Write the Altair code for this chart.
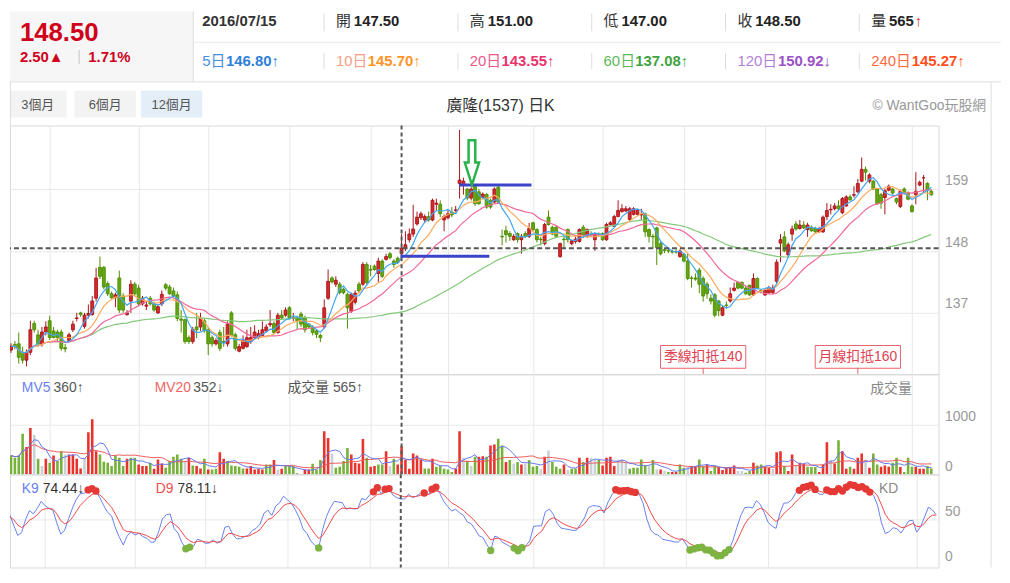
import altair as alt
import pandas as pd
import numpy as np

FONT = "Liberation Sans, Noto Sans CJK TC, sans-serif"

# ---------------- daily candles ----------------
opens = [
    130.4,131.4,131.5,130.0,128.6,130.0,135.1,133.1,131.5,133.6, 135.6,133.8,133.6,133.6,130.8,132.1,134.0,136.0,137.0,134.6,
    136.6,136.7,139.6,145.1,145.1,142.2,140.4,139.7,143.2,140.0, 136.7,139.1,142.1,141.4,138.6,138.2,139.6,138.6,137.0,138.6,
    142.0,141.6,140.9,140.2,135.9,135.8,132.6,131.9,134.5,134.5, 135.6,134.0,132.6,131.5,133.5,131.9,131.5,137.0,133.1,130.2,
    130.7,131.0,131.9,132.6,132.6,133.0,133.8,134.9,135.1,133.5, 136.6,136.6,137.9,136.0,136.1,136.8,136.1,135.0,134.5,133.8,
    133.0,134.5,139.6,143.2,142.1,142.1,141.2,140.3,137.3,138.9, 142.1,142.1,145.6,144.7,145.3,144.0,146.2,146.5,147.5,146.2,
    146.7,147.5,148.4,150.0,151.0,152.8,153.9,153.5,154.1,153.5, 156.3,156.3,153.5,153.9,154.9,155.2,160.0,159.8,159.0,157.4,
    159.5,158.5,157.5,158.0,157.0,156.7,159.3,150.6,151.6,151.1, 150.0,151.1,150.0,151.1,150.6,153.0,151.8,150.1,149.3,154.0,
    152.2,152.2,147.0,150.1,151.8,149.3,149.7,149.7,152.2,150.6, 151.0,150.0,151.0,151.1,150.0,152.7,152.4,154.1,155.0,155.1,
    153.6,154.5,154.5,154.4,154.6,151.8,150.6,152.1,149.3,148.2, 148.1,147.9,147.9,147.0,147.4,146.2,143.2,143.2,144.6,143.1,
    142.1,139.6,140.2,139.1,136.6,138.4,139.1,141.0,142.4,142.4, 141.4,141.9,140.2,143.1,141.0,140.2,140.6,140.6,142.6,149.4,
    150.5,147.3,151.0,152.8,152.0,152.6,151.8,152.2,152.0,151.4, 151.4,154.1,155.3,155.5,156.0,154.8,156.0,157.6,157.9,158.5,
    160.4,162.5,160.4,160.4,159.0,158.0,157.5,158.8,159.0,157.3, 155.9,159.0,158.3,156.0,158.0,159.7,161.0,160.0,158.6,
]
highs = [
    131.6,132.0,133.5,131.0,130.5,135.6,135.6,134.0,134.5,135.5, 136.5,134.5,134.0,134.0,131.5,133.5,135.6,137.0,137.2,137.0,
    138.5,140.0,145.0,147.0,145.3,142.6,140.8,140.6,144.5,140.5, 137.5,142.8,142.5,142.0,140.0,139.0,140.0,139.0,138.5,141.0,
    142.3,142.0,141.5,140.8,137.5,136.0,133.0,134.5,137.0,137.0, 136.0,134.5,133.0,132.5,134.0,134.5,135.5,137.3,133.5,131.5,
    133.0,134.0,134.5,134.8,134.0,135.5,135.0,137.5,135.5,137.0, 137.5,138.0,138.2,137.0,136.5,137.2,136.5,135.2,134.8,134.0,
    133.3,139.4,144.7,143.5,143.5,142.5,141.5,140.6,140.6,141.0, 142.5,146.0,146.0,145.5,145.6,146.8,146.5,147.5,147.8,146.5,
    147.0,151.0,151.5,152.0,156.2,155.0,155.0,154.5,155.0,157.3, 157.3,157.0,154.5,155.3,155.8,156.0,169.5,161.0,159.2,159.3,
    159.8,159.0,158.4,158.3,157.3,159.3,159.6,151.8,152.5,151.5, 151.0,151.3,151.0,151.5,153.0,153.2,152.0,150.5,153.0,155.2,
    152.5,152.5,149.5,150.5,152.0,150.0,150.5,152.0,152.6,152.0, 151.5,151.2,151.3,151.3,153.0,153.3,154.4,157.0,156.3,156.0,
    155.8,155.8,155.5,155.5,154.8,152.0,151.0,152.3,149.6,148.5, 148.4,148.2,148.3,148.3,147.6,147.5,143.6,144.0,145.0,143.5,
    142.5,140.3,140.5,139.3,138.2,139.0,141.5,142.4,142.6,142.6, 141.8,142.0,144.0,143.3,141.2,141.2,141.8,142.0,146.5,151.0,
    151.5,149.5,152.5,153.3,153.5,153.3,153.0,152.5,152.3,152.3, 154.3,156.5,156.3,156.5,157.0,157.6,157.9,158.0,159.5,160.8,
    164.6,163.0,161.8,160.6,159.2,158.3,159.0,159.8,159.2,157.5, 158.9,159.3,158.6,156.3,162.0,160.5,161.5,160.2,158.9,
]
lows = [
    129.9,130.5,128.0,128.0,127.5,129.5,133.5,131.0,131.0,133.0, 132.2,132.5,132.0,130.3,130.0,131.8,133.6,135.5,136.3,134.2,
    136.0,136.5,139.0,143.0,141.2,140.0,139.5,138.0,137.0,137.0, 136.5,137.0,140.0,138.2,138.3,137.5,138.3,137.2,136.8,138.2,
    141.0,140.2,139.7,135.5,133.5,131.5,131.5,131.5,132.5,133.8, 133.5,129.5,131.0,131.2,130.2,131.0,131.0,132.8,130.3,130.0,
    130.5,130.8,131.5,132.3,132.3,132.8,133.5,134.5,133.3,133.3, 135.8,136.3,135.8,135.5,134.0,134.5,133.5,134.2,133.0,132.5,
    131.8,134.2,139.3,142.2,141.6,140.3,140.3,134.2,137.0,138.5, 140.5,141.8,142.0,143.5,144.5,142.5,143.2,146.3,146.5,145.0,
    145.8,147.0,148.0,149.5,150.5,152.5,153.5,153.0,153.2,153.3, 155.2,154.0,151.5,153.6,154.0,154.8,157.3,158.0,157.0,157.0,
    156.0,156.2,157.2,155.5,155.5,156.5,156.5,149.0,149.5,149.8, 149.8,149.5,147.5,150.3,150.3,151.5,149.5,149.0,149.0,152.5,
    150.8,150.3,146.8,148.5,149.5,149.0,149.3,149.5,150.3,150.3, 150.5,148.0,150.5,149.8,149.8,152.5,152.2,154.0,154.8,154.9,
    153.3,154.3,154.3,153.5,150.5,149.5,148.5,145.5,147.2,147.6, 147.6,147.5,147.5,146.8,146.0,142.8,141.5,142.7,140.5,139.0,
    139.5,138.5,136.2,136.4,136.4,137.8,138.8,140.8,141.2,141.2, 140.2,140.0,140.0,141.2,140.5,140.0,140.4,140.4,142.3,146.0,
    147.8,146.8,149.8,151.6,151.8,151.9,150.5,151.4,151.2,151.2, 151.2,153.5,154.5,155.2,155.3,154.5,155.8,156.9,157.5,158.3,
    160.2,160.5,160.0,158.8,156.2,155.5,154.5,158.6,158.0,156.3, 155.6,158.0,157.0,154.8,156.3,159.5,158.5,157.0,157.8,
]
closes = [
    131.1,131.0,129.1,128.6,130.0,134.0,134.0,131.5,133.6,134.5, 132.6,132.6,132.6,130.7,130.6,133.1,135.0,136.1,136.7,136.6,
    136.9,139.1,143.2,143.5,141.6,140.4,139.7,140.2,137.5,137.5, 137.0,142.1,140.4,138.6,139.6,138.4,138.6,137.5,138.1,140.3,
    141.4,140.4,140.0,136.0,135.7,131.9,131.9,134.0,134.0,136.1, 133.8,131.5,131.5,132.1,130.7,131.8,135.0,133.0,130.7,131.0,
    132.1,132.6,132.6,133.6,133.3,134.0,134.5,135.1,133.5,136.6, 136.1,137.5,136.1,136.1,135.6,135.0,134.0,134.5,133.5,133.2,
    132.6,137.9,142.6,142.5,142.8,140.6,140.6,137.9,140.3,140.5, 140.9,145.6,142.4,144.6,144.7,146.2,143.5,147.0,146.8,145.6,
    146.0,148.5,149.1,151.0,151.9,154.0,154.6,154.1,153.5,157.0, 156.5,154.6,154.1,154.6,154.4,155.3,160.6,160.4,157.4,159.0,
    156.4,156.4,158.1,155.8,155.8,159.0,156.7,150.5,150.9,150.6, 150.6,150.0,150.6,150.6,152.0,151.8,150.0,150.0,152.7,152.7,
    151.0,150.6,149.3,150.0,150.0,149.8,150.1,151.8,150.6,151.8, 150.9,151.0,150.9,150.0,152.7,153.0,154.1,155.2,155.5,155.5,
    155.5,155.5,155.2,154.5,151.4,150.6,150.5,148.6,147.5,148.1, 148.0,147.8,147.8,148.0,146.2,143.1,143.1,143.0,142.1,140.0,
    140.4,139.1,136.6,137.4,137.9,138.3,140.4,141.4,141.4,141.4, 140.4,140.2,143.1,141.4,140.9,141.0,141.4,141.4,146.0,150.0,
    148.0,149.1,151.9,151.9,152.6,152.1,152.6,151.6,151.4,152.0, 154.0,155.2,155.4,156.0,155.5,157.3,157.6,157.1,158.0,160.0,
    162.5,162.0,161.5,159.0,156.4,156.5,158.7,159.5,158.3,156.7, 158.6,158.3,157.2,155.0,158.6,160.2,161.0,158.8,158.0,
]
volumes = [
    380,333,380,820,553,933,800,313,167,313, 233,380,267,467,400,400,400,313,120,333,
    847,1113,467,400,253,233,167,380,333,167, 313,333,333,200,167,167,233,113,300,220,
    133,267,353,400,313,267,333,180,167,120, 313,100,100,113,447,313,267,180,167,153,
    120,120,167,100,113,100,200,200,287,100, 113,167,167,167,20,13,100,100,213,100,
    287,867,733,420,133,153,267,533,400,233, 220,713,333,153,167,200,200,467,167,313,
    200,565,287,113,420,380,300,120,120,313, 153,167,113,100,47,113,867,333,267,167,
    353,353,367,353,580,
    600,720,580,247,287,220,247,200,220,287, 153,167,113,353,480,247,153,113,200,87,
    113,120,333,247,333,333,300,287,180,333, 353,167,287,300,233,113,133,133,300,180,
    167,287,100,100,67,47,47,47,200,133, 147,167,153,300,167,200,67,167,147,87,
    133,147,180,67,67,33,67,233,180,200, 153,133,113,447,467,167,67,400,167,233,
    213,153,147,147,47,187,647,287,220,687, 467,113,153,113,333,420,300,133,420,200,
    153,180,153,233,333,147,47,333,153,153, 113,113,167,120,
]
# r = up, g = down, n = unchanged (volume bar colours)
vol_dir = list(
    "ggggrrngnr" "grggnrrrrn" "rrrggggggg" "rggrrrgrrr" "gggggnrgrr" "grggrrgggg"
    "grrrrrggrn" "rggggnrrgg" "grrnggggrr" "rrgrrggrng" "rrrrrrrggr" "gggggrrngn" "grrgr"
    "rggrgngrng" "ggnrngggrn" "ggrgrnngrr" "rrnnnggggg" "ngnrngrrgg" "nrrggrggrr"
    "rrrnnggrgg" "rrnrrgrrnr" "rgggrrrnrg" "rrgrrrnrgg" "rrrggrgggr" "rrgg"
)

grid_idx = [10, 33, 51, 72, 93, 113, 135, 153, 174, 195, 233]
cross_idx = 101
# hand-drawn annotations on the chart
blue_x1 = [100.7, 115.9]
blue_x2 = [123.7, 134.6]
blue_y = [147.05, 159.73]
arrow_i = [119.2]
arrow_p = [163.7]

# header texts
info_date = "2016/07/15"
info_row = [("開", "147.50"), ("高", "151.00"), ("低", "147.00"), ("收", "148.50"), ("量", "565")]
ma_row = [("5日", "146.80↑"), ("10日", "145.70↑"), ("20日", "143.55↑"),
          ("60日", "137.08↑"), ("120日", "150.92↓"), ("240日", "145.27↑")]
ma_label_w = [24, 32, 32, 32, 41, 41]
ma_lab_col = ["#4a90e2", "#f59e85", "#f0588a", "#5cb85c", "#b27fd6", "#ff6a3d"]
ma_val_col = ["#2f7fd8", "#ff9326", "#e8336d", "#3fa33f", "#9b51c8", "#ff4f1a"]

# ---------------- derived series ----------------
N = len(closes)
df = pd.DataFrame({"i": np.arange(N), "open": opens, "high": highs, "low": lows,
                   "close": closes, "vol": volumes})
df["high"] = df[["high", "open", "close"]].max(axis=1)
df["low"] = df[["low", "open", "close"]].min(axis=1)
up = df["close"] >= df["open"]
df["wick_c"] = np.where(up, "#a8141a", "#4d8c00")
df["body_f"] = np.where(up, "#d42a2a", "#62a70f")
df["vol_c"] = [{"r": "#e8332d", "g": "#76b13a", "n": "#c8d1d6"}[c] for c in vol_dir]
for n in (5, 10, 20, 60):
    df[f"ma{n}"] = df["close"].rolling(n, min_periods=1).mean()
df["mv5"] = df["vol"].rolling(5, min_periods=1).mean()
df["mv20"] = df["vol"].rolling(20, min_periods=1).mean()
lo9 = df["low"].rolling(9, min_periods=1).min()
hi9 = df["high"].rolling(9, min_periods=1).max()
rsv = ((df["close"] - lo9) / (hi9 - lo9).replace(0, np.nan) * 100).fillna(50)
K, D = [], []
k = d = 50.0
for r in rsv:
    k = 2 / 3 * k + r / 3
    d = 2 / 3 * d + k / 3
    K.append(k)
    D.append(d)
df["K"] = K
df["D"] = D
df["dot_c"] = np.where(df["K"] > 80, "#e53935", "#7cb342")

# ---------------- helpers ----------------
W = 937
XS = alt.Scale(domain=[1.01, 238.6], nice=False, zero=False)
XAX = alt.Axis(values=grid_idx, grid=True, gridColor="#e8e8e8", labels=False, ticks=False,
               domain=False, title=None)


def X(field="i"):
    return alt.X(f"{field}:Q", scale=XS, axis=XAX)


def txt(s, x, y, color="#333", size=15, weight="normal", align="left"):
    return alt.Chart(pd.DataFrame({"t": [s]})).mark_text(
        align=align, baseline="middle", color=color, fontSize=size, fontWeight=weight, font=FONT
    ).encode(x=alt.value(x), y=alt.value(y), text="t:N")


def rect(x, x2, y, y2, fill):
    return alt.Chart(pd.DataFrame({"a": [0]})).mark_rect(fill=fill).encode(
        x=alt.value(x), x2=alt.value(x2), y=alt.value(y), y2=alt.value(y2))


def line(x, x2, y, y2, color="#dddddd", width=1):
    return alt.Chart(pd.DataFrame({"a": [0]})).mark_rule(color=color, strokeWidth=width).encode(
        x=alt.value(x), x2=alt.value(x2), y=alt.value(y), y2=alt.value(y2))


def yaxis(values, offset, grid=True):
    return alt.Axis(orient="right", values=values, grid=grid, gridColor="#e8e8e8", ticks=False,
                    domain=False, labelColor="#9a9a9a", labelFontSize=14, labelFont=FONT,
                    labelOffset=offset, labelPadding=6, title=None, format="d")


# ---------------- header ----------------
hdr = [
    rect(0, 185, 0, 70, "#f6f6f6"),
    txt("148.50", 10, 22, "#d0021b", 26, "bold"),
    txt("2.50▲", 10, 46, "#d0021b", 15, "bold"),
    txt("|", 68, 46, "#cccccc", 14),
    txt("1.71%", 79, 46, "#d0021b", 15, "bold"),
    line(185, 185, 0, 71),
    line(185, 1000, 31, 31, "#e8e8e8"),
    line(0, 1000, 71, 71),
    txt(info_date, 194, 10, "#333", 15, "bold"),
]
cols = [194, 329, 464, 599, 734, 869]
for sx in [317, 452, 587, 722, 857]:
    hdr.append(line(sx, sx, 2, 20, "#dddddd"))
    hdr.append(line(sx, sx, 42, 58, "#dddddd"))
for k_, (lab, val) in enumerate(info_row):
    cx = cols[k_ + 1]
    hdr.append(txt(lab, cx, 10, "#333", 15))
    hdr.append(txt(val, cx + 18, 10, "#222", 15, "bold"))
hdr.append(txt("↑", cols[5] + 44, 10, "#e0302a", 15, "bold"))
for k_, (lab, val) in enumerate(ma_row):
    cx = cols[k_]
    hdr.append(txt(lab, cx, 50, ma_lab_col[k_], 15))
    hdr.append(txt(val, cx + ma_label_w[k_], 50, ma_val_col[k_], 15, "bold"))
hdr += [
    rect(0, 57, 80, 107, "#f3f3f3"), txt("3個月", 28, 94, "#555", 13, align="center"),
    rect(65, 127, 80, 107, "#f3f3f3"), txt("6個月", 96, 94, "#555", 13, align="center"),
    rect(132, 194, 80, 107, "#e4eef8"), txt("12個月", 163, 94, "#555", 13, align="center"),
    txt("廣隆(1537) 日K", 495, 95, "#333", 16, align="center"),
    txt("© WantGoo玩股網", 985, 95, "#999", 14, align="right"),
    line(0.5, 0.5, 71, 115), line(990, 990, 71, 115),
]
header = alt.layer(*hdr).properties(width=1000, height=115,
                                    view=alt.ViewBackground(stroke="transparent"))

# ---------------- price panel ----------------
PH = 251
PS = alt.Scale(domain=[126.1, 170.29], nice=False, zero=False)
PAX = yaxis([126, 137, 148, 159], -9)


def PY(field):
    return alt.Y(f"{field}:Q", scale=PS, axis=PAX)


base = alt.Chart(df)
wick = base.mark_rule(strokeWidth=1, clip=True).encode(
    x=X(), y=PY("low"), y2="high", color=alt.Color("wick_c:N", scale=None))
body = base.mark_bar(size=2.9, strokeWidth=0.9, clip=True, orient="vertical").encode(
    x=X(), y=PY("open"), y2="close",
    fill=alt.Fill("body_f:N", scale=None), stroke=alt.Stroke("wick_c:N", scale=None))
ma_layers = [base.mark_line(strokeWidth=1.2, clip=True, color=c).encode(x=X(), y=PY(f))
             for f, c in [("ma60", "#84c97a"), ("ma20", "#f2679a"), ("ma10", "#ffab5e"), ("ma5", "#42a5f5")]]
crossH = alt.Chart(pd.DataFrame({"p": [closes[cross_idx]]})).mark_rule(
    strokeDash=[5, 3], strokeWidth=2, color="#555").encode(y=PY("p"))


def crossV():
    return alt.Chart(pd.DataFrame({"i": [cross_idx]})).mark_rule(
        strokeDash=[4, 3], strokeWidth=2, color="#555").encode(x=X())


blue = alt.Chart(pd.DataFrame({"x1": blue_x1, "x2": blue_x2, "y": blue_y})).mark_rule(
    strokeWidth=3, color="#3b44c8").encode(x=X("x1"), x2="x2", y=PY("y"))
ARROW = "M-0.15,-1L0.15,-1L0.15,0L0.32,0L0,1L-0.32,0L-0.15,0Z"
arrow = alt.Chart(pd.DataFrame({"i": arrow_i, "p": arrow_p})).mark_point(
    shape=ARROW, size=2025, filled=False, color="#2ab24a", strokeWidth=2.5, opacity=1).encode(
    x=X(), y=PY("p"))
ded = pd.DataFrame({"i": [N - 60, N - 20],
                    "label": [f"季線扣抵{closes[N - 60]:g}", f"月線扣抵{closes[N - 20]:g}"]})
BOX = "M-1,-0.267L1,-0.267L1,0.267L-1,0.267Z"
dbox = alt.Chart(ded).mark_point(shape=BOX, size=86 * 86, filled=True, fill="white",
                                 stroke="#e8606a", strokeWidth=1, opacity=1).encode(
    x=X(), y=alt.value(233.5))
dtick = alt.Chart(ded).mark_rule(color="#e8606a").encode(x=X(), y=alt.value(245), y2=alt.value(251))
dlab = alt.Chart(ded).mark_text(fontSize=14, color="#e04050", font=FONT).encode(
    x=X(), y=alt.value(234), text="label:N")

price = alt.layer(wick, body, *ma_layers, crossH, crossV(), blue, arrow, dbox, dtick, dlab,
                  line(990, 990, 0, PH)).properties(width=W, height=PH)

# ---------------- volume panel ----------------
VH = 101
VS = alt.Scale(domain=[0, 2020], nice=False, zero=False)
VAX = yaxis([0, 1000], -8)
vbars = base.mark_bar(size=2.6, clip=True, orient="vertical").encode(
    x=X(), y=alt.Y("vol:Q", scale=VS, axis=VAX), color=alt.Color("vol_c:N", scale=None))
mv5 = base.mark_line(strokeWidth=1, clip=True, color="#6677ee").encode(x=X(), y=alt.Y("mv5:Q", scale=VS, axis=VAX))
mv20 = base.mark_line(strokeWidth=1, clip=True, color="#ee5a5a").encode(x=X(), y=alt.Y("mv20:Q", scale=VS, axis=VAX))
volc = alt.layer(
    vbars, mv20, mv5, crossV(),
    txt("MV5", 12, 14, "#6a7ff0", 14), txt("360↑", 44, 14, "#555", 14),
    txt("MV20", 146, 14, "#f06464", 14), txt("352↓", 185, 14, "#555", 14),
    txt("成交量 565↑", 280, 14, "#555", 14), txt("成交量", 868, 15, "#888", 14),
    line(990, 990, 0, VH),
).properties(width=W, height=VH)

# ---------------- KD panel ----------------
KH = 94
KS = alt.Scale(domain=[-3.4, 101.1], nice=False, zero=False)
KAX = yaxis([0, 50], -8, grid=False)
kline = base.mark_line(strokeWidth=1, clip=True, color="#6680f0").encode(x=X(), y=alt.Y("K:Q", scale=KS, axis=KAX))
dline = base.mark_line(strokeWidth=1, clip=True, color="#f04848").encode(x=X(), y=alt.Y("D:Q", scale=KS, axis=KAX))
dots = base.transform_filter("datum.K > 80 || datum.K < 20").mark_circle(size=55, opacity=1, clip=True).encode(
    x=X(), y=alt.Y("K:Q", scale=KS, axis=KAX), color=alt.Color("dot_c:N", scale=None))
g50 = alt.Chart(pd.DataFrame({"v": [50]})).mark_rule(color="#e8e8e8").encode(y=alt.Y("v:Q", scale=KS, axis=KAX))
kdc = alt.layer(
    g50, kline, dline, dots, crossV(),
    txt("K9", 12, 15, "#6a7ff0", 14), txt("74.44↓", 33, 15, "#333", 14),
    txt("D9", 147, 15, "#f05050", 14), txt("78.11↓", 169, 15, "#333", 14),
    txt("KD", 877, 15, "#888", 14),
    line(990, 990, 0, KH),
).properties(width=W, height=KH)

chart = alt.vconcat(header, price, volc, kdc, spacing=0, bounds="flush", padding=0).properties(
    background="white").configure_view(stroke="#d8d8d8", strokeWidth=1)

chart.save("out.html", embed_options={"renderer": "svg", "actions": False})
